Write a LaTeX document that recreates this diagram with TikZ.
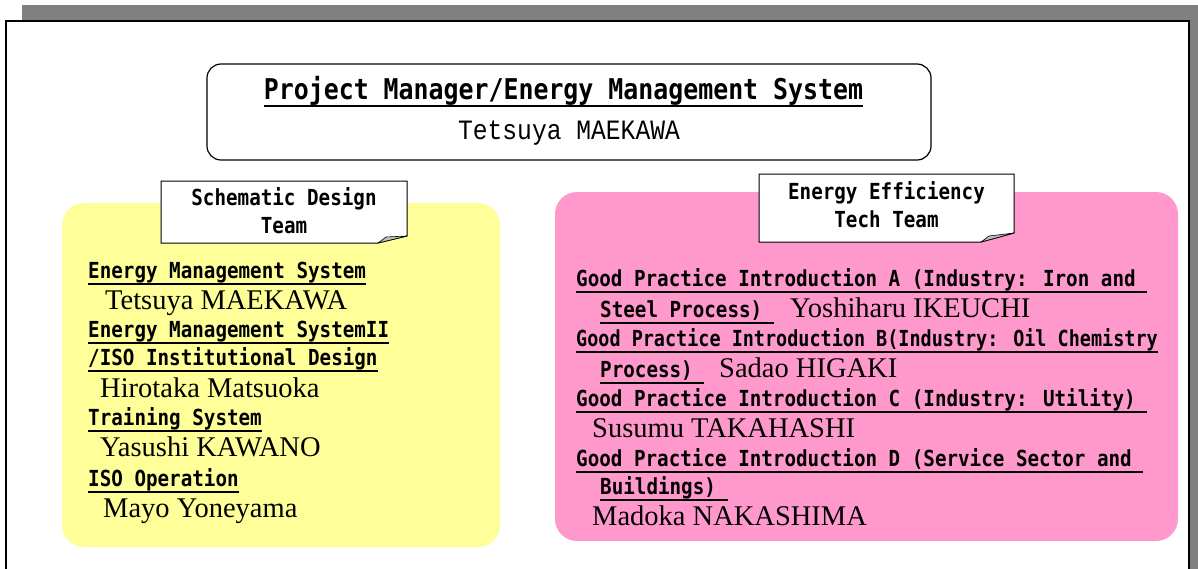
\documentclass[tikz,border=0pt]{standalone}
\usepackage{fontspec}
\setmainfont{Liberation Serif}
\newfontfamily\gothicfont{DejaVu Sans Mono}[FakeStretch=0.87]
\newfontfamily\minchofont{Liberation Mono}[FakeStretch=0.88]
\definecolor{shadowgray}{HTML}{808080}
\definecolor{boxyellow}{HTML}{FFFF99}
\definecolor{boxpink}{HTML}{FF99CC}
\definecolor{foldgray}{HTML}{C0C0C0}
\newcommand\ulh[1]{\setbox0\hbox{#1}\rlap{\rule[-6.5pt]{\wd0}{1.6pt}}\box0}
\newcommand\ult[1]{\setbox0\hbox{#1}\rlap{\rule[-7.5pt]{\wd0}{2pt}}\box0}
\tikzset{
  head/.style={anchor=base west, inner sep=0pt, font=\gothicfont\bfseries\fontsize{22.1}{26}\selectfont},
  person/.style={anchor=base west, inner sep=0pt, font=\fontsize{28.5}{30}\selectfont},
  labeltext/.style={align=center, inner sep=0pt, font=\gothicfont\bfseries\fontsize{22.1}{28}\selectfont},
  labelbox/.style={fill=white, draw=black, line width=1pt},
  foldpiece/.style={fill=foldgray, draw=black, line width=0.6pt, line join=round},
  teambox/.style={rounded corners=22pt},
}
\begin{document}
\begin{tikzpicture}[x=1pt, y=-1pt]
\clip (0,0) rectangle (1198,568);
% frame with shadow
\fill[shadowgray] (22,5) rectangle (1210,580);
\filldraw[fill=white, draw=black, line width=2pt] (6,21) rectangle (1189,590);
% top box
\draw[rounded corners=14pt, line width=1.2pt] (207,64) rectangle (931,160);
\node[anchor=base, inner sep=0pt, font=\gothicfont\bfseries\fontsize{28.6}{32}\selectfont] (pmtitle) at (563.5,99) {\ult{Project Manager/Energy Management System}};
\node[anchor=base, inner sep=0pt, font=\minchofont\fontsize{28}{30}\selectfont] (pmname) at (569,139) {Tetsuya MAEKAWA};
% team boxes
\fill[boxyellow, teambox] (62,203) rectangle (500,547);
\fill[boxpink, teambox] (555,192) rectangle (1178,541);
% label 1
\filldraw[labelbox] (161,181) -- (407,181) -- (407,236) -- (378,243) -- (161,243) -- cycle;
\filldraw[foldpiece] (378,243) -- (386,237) -- (407,236) -- cycle;
\node[labeltext] (sdlabel) at (284,211) {Schematic Design\\Team};
% label 2
\filldraw[labelbox] (759,174) -- (1014,174) -- (1014,233) -- (981,242) -- (759,242) -- cycle;
\filldraw[foldpiece] (981,242) -- (989,236) -- (1014,233) -- cycle;
\node[labeltext] (eelabel) at (886.5,205) {Energy Efficiency\\Tech Team};
% left content
\node[head] (ems) at (88,278) {\ulh{Energy Management System}};
\node[person] (n1) at (105,309) {Tetsuya MAEKAWA};
\node[head] (ems2) at (88,337) {\ulh{Energy Management SystemII}};
\node[head] (iso) at (88,365) {\ulh{/ISO Institutional Design}};
\node[person] (n2) at (100,397) {Hirotaka Matsuoka};
\node[head] (train) at (88,425) {\ulh{Training System}};
\node[person] (n3) at (100,456) {Yasushi KAWANO};
\node[head] (isoop) at (88,486) {\ulh{ISO Operation}};
\node[person] (n4) at (103,517) {Mayo Yoneyama};
% right content
\node[head] (gpa) at (576,286) {\ulh{Good Practice Introduction A (Industry: Iron and\ }};
\node[head] (gpa2) at (600,317) {\ulh{Steel Process)\ }};
\node[person] (n5) at (790,317) {Yoshiharu IKEUCHI};
\node[head] (gpb) at (576,346) {\ulh{\scalebox{0.96}[1]{Good Practice Introduction B(Industry: Oil Chemistry}}};
\node[head] (gpb2) at (600,377) {\ulh{Process)\ }};
\node[person] (n6) at (719,377) {Sadao HIGAKI};
\node[head] (gpc) at (576,406) {\ulh{Good Practice Introduction C (Industry: Utility)\ }};
\node[person] (n7) at (592,437) {Susumu TAKAHASHI};
\node[head] (gpd) at (576,466) {\ulh{Good Practice Introduction D (Service Sector and\ }};
\node[head] (gpd2) at (600,494) {\ulh{Buildings)\ }};
\node[person] (n8) at (592,525) {Madoka NAKASHIMA};
\end{tikzpicture}
\end{document}
